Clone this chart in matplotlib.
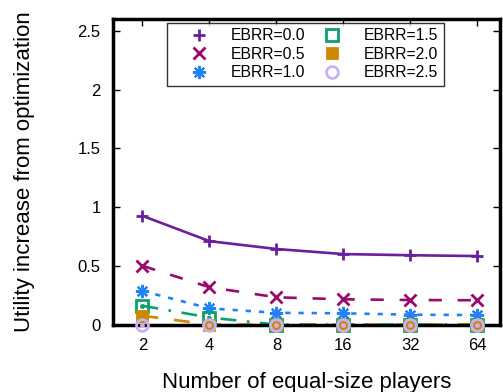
import matplotlib
matplotlib.use("Agg")
import matplotlib.pyplot as plt
from matplotlib.lines import Line2D

plt.rcParams['font.family'] = ['Liberation Sans', 'DejaVu Sans']

# data
players = [2, 4, 8, 16, 32, 64]
ebrr_labels = ["EBRR=0.0", "EBRR=0.5", "EBRR=1.0", "EBRR=1.5", "EBRR=2.0", "EBRR=2.5"]
ebrr_00 = [0.925, 0.71, 0.643, 0.60, 0.59, 0.583]
ebrr_05 = [0.50, 0.318, 0.232, 0.215, 0.209, 0.207]
ebrr_10 = [0.286, 0.138, 0.10, 0.096, 0.084, 0.081]
ebrr_15 = [0.16, 0.06, 0.0, 0.0, 0.0, 0.0]
ebrr_20 = [0.075, 0.0, 0.0, 0.0, 0.0, 0.0]
ebrr_25 = [0.0, 0.0, 0.0, 0.0, 0.0, 0.0]

series = [ebrr_00, ebrr_05, ebrr_10, ebrr_15, ebrr_20, ebrr_25]
colors = ["#6a1f9c", "#990a6e", "#2582f5", "#0aa070", "#cc8800", "#c9b2f2"]
markers = ["+", "x", (8, 2, 0), "s", "s", "o"]
styles = ["-", (0, (5, 6)), (0, (2, 3)), (0, (6, 4, 1, 4)), (0, (6, 6)), "-"]
msizes = [9, 8, 9.5, 8, 7, 8.5]
mews = [2.0, 2.0, 1.6, 2.0, 2.0, 2.0]
faces = ["none", "none", "none", "none", "#cc8800", "none"]

fig = plt.figure(figsize=(5.03, 3.92), dpi=100)
ax = fig.add_axes([0.2247, 0.172, 0.994 - 0.2247, 0.9515 - 0.172])

xs = list(range(len(players)))
handles = []
for i, ys in enumerate(series):
    # lines sit under the frame, markers on top of it
    ax.plot(xs, ys, linestyle=styles[i], color=colors[i], linewidth=1.9,
            clip_on=False, zorder=2)
    ax.plot(xs, ys, linestyle="none", marker=markers[i], markersize=msizes[i],
            markeredgewidth=mews[i], color=colors[i], markerfacecolor=faces[i],
            clip_on=False, zorder=3 + i)
    if markers[i] in ("s", "o") and faces[i] == "none":
        ax.plot(xs, ys, linestyle="none", marker="o", markersize=2.5,
                color=colors[i], clip_on=False, zorder=3 + i)
    handles.append(Line2D([], [], linestyle="none", marker=markers[i],
                          markersize=msizes[i], markeredgewidth=mews[i],
                          color=colors[i], markerfacecolor=faces[i]))

ax.set_xlim(-0.44, 5.34)
ax.set_ylim(0, 2.6)
ax.set_xticks(xs)
ax.set_xticklabels([str(p) for p in players])
ax.set_yticks([0, 0.5, 1, 1.5, 2, 2.5])
ax.set_yticklabels(["0", "0.5", "1", "1.5", "2", "2.5"])
ax.tick_params(direction="in", length=5, width=1, top=True, right=True,
               labelsize=12, colors="black")
ax.tick_params(axis="y", pad=9)
ax.tick_params(axis="x", pad=9.5)
for s in ax.spines.values():
    s.set_linewidth(2.5)

ax.set_xlabel("Number of equal-size players", fontsize=16)
ax.set_ylabel("Utility increase from optimization", fontsize=16)
ax.xaxis.set_label_coords(0.5, -0.155)
ax.yaxis.set_label_coords(-0.202, 0.5)

leg = ax.legend(handles, ebrr_labels, ncol=2, loc="upper left",
                bbox_to_anchor=(0.14, 0.987), borderaxespad=0,
                fontsize=11.3, frameon=True, fancybox=False,
                edgecolor="black", handlelength=3.4, handletextpad=0.31,
                columnspacing=0.0, labelspacing=0.21, borderpad=0.35,
                markerfirst=True)
leg.get_frame().set_linewidth(1.0)
leg.set_zorder(30)

fig.savefig("out.png", dpi=100)
